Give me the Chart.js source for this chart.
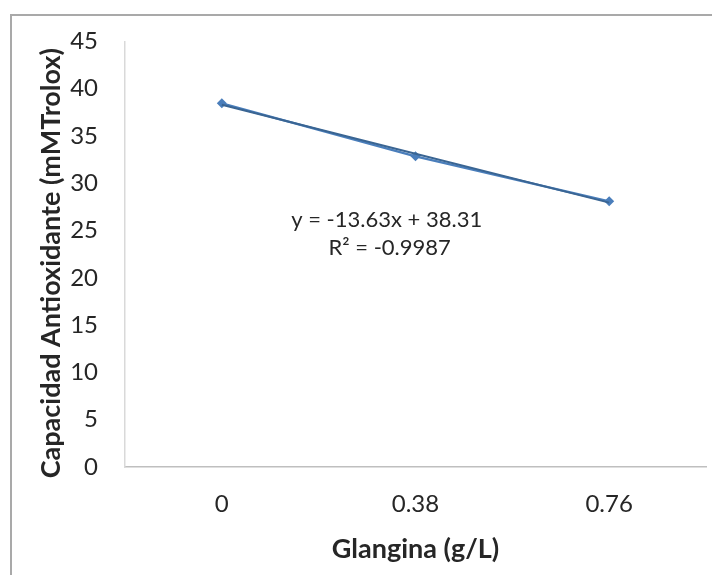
<!DOCTYPE html>
<html>
<head>
<meta charset="utf-8">
<script src="https://cdn.jsdelivr.net/npm/chart.js@4"></script>
<style>
  html, body { margin: 0; padding: 0; background: #fff; }
  #wrap { position: relative; width: 712px; height: 575px; overflow: hidden; }
  #frame { position: absolute; left: 10px; top: 14px; right: -4px; bottom: -4px;
           border-left: 2px solid #a9a9a9; border-top: 2px solid #a9a9a9; }
  canvas { position: absolute; left: 0; top: 0; }
</style>
</head>
<body>
<div id="wrap">
  <div id="frame"></div>
  <canvas id="c" width="712" height="575"></canvas>
</div>
<script>
// Glangina concentration (g/L) vs antioxidant capacity
const categories = ['0', '0.38', '0.76'];
const concentrations = [0, 0.38, 0.76];
const capacity = [38.45, 32.85, 28.09];
const yTicks = [0, 5, 10, 15, 20, 25, 30, 35, 40, 45];
const xTitle = 'Glangina (g/L)';
const yTitle = 'Capacidad Antioxidante (mMTrolox)';

// Linear trend fitted to the series (least squares)
const trendSlope = -13.63;
const trendIntercept = 38.31;
const trendR2 = '-0.9987';
const trendValues = concentrations.map(x => trendIntercept + trendSlope * x);

const FONT = 'Lato, "Open Sans", sans-serif';
const INK = '#262626';

// Trend equation and the vertical axis title, drawn as canvas text
const annotations = {
  id: 'annotations',
  afterDatasetsDraw(chart) {
    const { ctx, chartArea, scales: { x, y } } = chart;
    const cx = (x.getPixelForValue(0) + x.getPixelForValue(1)) / 2 + 68;
    ctx.save();
    ctx.fillStyle = INK;
    ctx.font = '22px ' + FONT;
    ctx.textAlign = 'center';
    ctx.textBaseline = 'middle';
    ctx.fillText('y = ' + trendSlope.toFixed(2) + 'x + ' + trendIntercept.toFixed(2), cx, y.getPixelForValue(26.1));
    ctx.fillText('R\u00B2 = ' + trendR2, cx + 3, y.getPixelForValue(23.2));

    ctx.font = 'bold 27px ' + FONT;
    ctx.translate(51, (chartArea.top + chartArea.bottom) / 2 + 9);
    ctx.rotate(-Math.PI / 2);
    ctx.fillText(yTitle, 0, 0);
    ctx.restore();
  }
};

new Chart(document.getElementById('c'), {
  type: 'line',
  data: {
    labels: categories,
    datasets: [
      {
        label: 'Capacidad Antioxidante',
        data: capacity,
        borderColor: '#4a7ebb',
        backgroundColor: '#4a7ebb',
        borderWidth: 2.25,
        pointStyle: 'rectRot',
        pointRadius: 5,
        pointBorderWidth: 0,
        tension: 0,
        order: 2
      },
      {
        label: 'Lineal',
        data: trendValues,
        borderColor: '#3a6593',
        borderWidth: 2,
        pointRadius: 0,
        tension: 0,
        order: 1
      }
    ]
  },
  options: {
    responsive: false,
    animation: false,
    layout: { padding: { left: 10, right: 6, top: 40, bottom: 0 } },
    plugins: {
      legend: { display: false },
      tooltip: { enabled: false }
    },
    scales: {
      x: {
        type: 'category',
        offset: true,
        grid: { display: false, drawTicks: false },
        border: { display: true, color: '#bfbfbf', width: 1.5 },
        ticks: { color: INK, font: { family: FONT, size: 24 }, padding: 23 },
        title: { display: true, text: xTitle, color: INK,
                 font: { family: FONT, size: 27, weight: 'bold' }, padding: { top: 0, bottom: 10 } },
        afterFit(s) { s.height = 108; }
      },
      y: {
        min: 0,
        max: 45,
        afterBuildTicks(s) { s.ticks = yTicks.map(v => ({ value: v })); },
        grid: { display: false, drawTicks: false },
        border: { display: true, color: '#d9d9d9', width: 1.5 },
        ticks: { color: INK, font: { family: FONT, size: 24 }, padding: 27 },
        title: { display: false },
        afterFit(s) { s.width = 115; }
      }
    }
  },
  plugins: [annotations]
});
</script>
</body>
</html>
